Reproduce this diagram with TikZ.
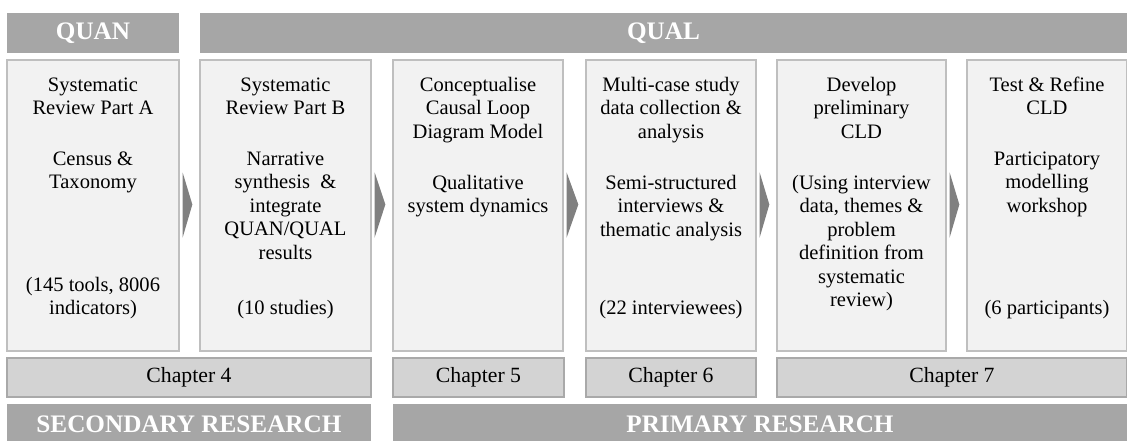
\documentclass[tikz,border=0pt]{standalone}
\usepackage{fontspec}
\setmainfont{Liberation Serif}
\usetikzlibrary{calc}
\definecolor{barfill}{HTML}{A6A6A6}
\definecolor{stagefill}{HTML}{F2F2F2}
\definecolor{stageline}{HTML}{BFBFBF}
\definecolor{chapfill}{HTML}{D3D3D3}
\definecolor{chapline}{HTML}{A9A9A9}
\definecolor{chevron}{HTML}{808080}
\newcommand\stagefont{\fontsize{15.4}{17.6}\selectfont}
\newcommand\chapfont{\fontsize{16.3}{18}\selectfont}
\newcommand\barfont{\fontsize{18.9}{20}\selectfont\bfseries}
\tikzset{
  phasebar/.style={fill=barfill, draw=none, minimum height=30pt, inner sep=0pt,
    text=white, font=\barfont},
  stagebox/.style={fill=stagefill, draw=stageline, line width=1pt,
    minimum height=218.25pt, inner sep=0pt},
  chapbox/.style={fill=chapfill, draw=chapline, line width=1pt,
    minimum height=29.25pt, inner sep=0pt, font=\chapfont},
  % anchored on the baseline of the last line of each block
  stagetext/.style={font=\stagefont, align=center, inner sep=0pt, anchor=base},
  chev/.style={fill=chevron, draw=none}
}
\begin{document}
\begin{tikzpicture}[x=0.75pt,y=-0.75pt]
\useasboundingbox (0,0) rectangle (1127,440);
\clip (0,0) rectangle (1127,440);

% paradigm bars
\node[phasebar, minimum width=129pt]     (quan) at (93,33)    {QUAN};
\node[phasebar, minimum width=695.25pt]  (qual) at (663.5,33) {QUAL};

% stage boxes
\node[stagebox, minimum width=129pt]    (sa) at (93,205.5)    {};
\node[stagebox, minimum width=128.25pt] (sb) at (285.5,205.5) {};
\node[stagebox, minimum width=127.5pt]  (sc) at (478,205.5)   {};
\node[stagebox, minimum width=127.5pt]  (sd) at (671,205.5)   {};
\node[stagebox, minimum width=126.75pt] (se) at (861.5,205.5) {};
\node[stagebox, minimum width=120pt]    (sf) at (1047,205.5)  {};

% stage texts: title block, method block, count block
\node[stagetext] (ta1) at ($(sa.north)+(0,55.5)$)  {Systematic\\Review Part A};
\node[stagetext] (ta2) at ($(sa.north)+(0,129.5)$) {Census \&\\Taxonomy};
\node[stagetext] (ta3) at ($(sa.north)+(0,255.5)$) {(145 tools, 8006\\indicators)};

\node[stagetext] (tb1) at ($(sb.north)+(0,55.5)$)  {Systematic\\Review Part B};
\node[stagetext] (tb2) at ($(sb.north)+(0,199.9)$) {Narrative\\synthesis\ \ \&\\integrate\\QUAN/QUAL\\results};
\node[stagetext] (tb3) at ($(sb.north)+(0,255.5)$) {(10 studies)};

\node[stagetext] (tc1) at ($(sc.north)+(0,78.9)$)  {Conceptualise\\Causal Loop\\Diagram Model};
\node[stagetext] (tc2) at ($(sc.north)+(0,153.5)$) {Qualitative\\system dynamics};

\node[stagetext] (td1) at ($(sd.north)+(0,78.9)$)  {Multi-case study\\data collection \&\\analysis};
\node[stagetext] (td2) at ($(sd.north)+(0,176.9)$) {Semi-structured\\interviews \&\\thematic analysis};
\node[stagetext] (td3) at ($(sd.north)+(0,255.5)$) {(22 interviewees)};

\node[stagetext] (te1) at ($(se.north)+(0,78.9)$)  {Develop\\preliminary\\CLD};
\node[stagetext] (te2) at ($(se.north)+(0,247.3)$) {(Using interview\\data, themes \&\\problem\\definition from\\systematic\\review)};

\node[stagetext] (tf1) at ($(sf.north)+(0,55.5)$)  {Test \& Refine\\CLD};
\node[stagetext] (tf2) at ($(sf.north)+(0,152.9)$) {Participatory\\modelling\\workshop};
\node[stagetext] (tf3) at ($(sf.north)+(0,255.5)$) {(6 participants)};

% chevrons between consecutive stages
\foreach \a/\b in {sa/sb, sb/sc, sc/sd, sd/se, se/sf}{
  \fill[chev] ($(\a.east)+(3,-33)$) -- ($(\a.east)+(3,32)$)
              -- ($(\b.west)+(-7,-1)$) -- cycle;
}

% chapter strip
\node[chapbox, minimum width=273pt]    (ch4) at (189,377.5)   {Chapter 4};
\node[chapbox, minimum width=128.25pt] (ch5) at (478.5,377.5) {Chapter 5};
\node[chapbox, minimum width=127.5pt]  (ch6) at (671,377.5)   {Chapter 6};
\node[chapbox, minimum width=262.5pt]  (ch7) at (952,377.5)   {Chapter 7};

% research type bars
\node[phasebar, minimum width=273pt]   (sec) at (189,424) {SECONDARY RESEARCH};
\node[phasebar, minimum width=550.5pt] (pri) at (760,424) {PRIMARY RESEARCH};
\end{tikzpicture}
\end{document}
